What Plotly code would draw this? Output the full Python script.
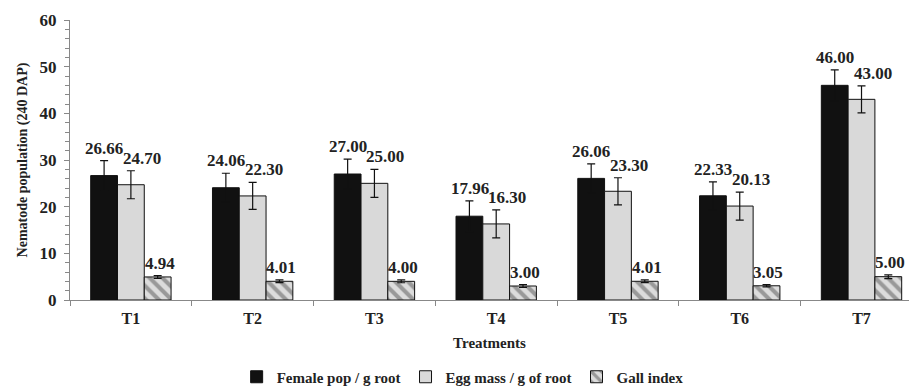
import plotly.graph_objects as go

treatments = ["T1", "T2", "T3", "T4", "T5", "T6", "T7"]
female = [26.66, 24.06, 27.00, 17.96, 26.06, 22.33, 46.00]
female_err = [3.2, 3.1, 3.2, 3.3, 3.1, 3.0, 3.3]
egg = [24.70, 22.30, 25.00, 16.30, 23.30, 20.13, 43.00]
egg_err = [3.0, 2.9, 3.0, 3.0, 2.9, 3.0, 2.9]
gall = [4.94, 4.01, 4.00, 3.00, 4.01, 3.05, 5.00]
gall_err = [0.3, 0.3, 0.3, 0.3, 0.3, 0.25, 0.4]

FONT = "Liberation Serif"
fig = go.Figure()

def add(name, vals, errs, color, pattern=None):
    marker = dict(color=color, line=dict(color="#111", width=1))
    if pattern:
        marker["pattern"] = pattern
    fig.add_trace(go.Bar(
        x=treatments, y=vals, name=name, marker=marker,
        error_y=dict(type="data", array=errs, color="#111", thickness=1.2, width=4),
    ))

add("Female pop / g root", female, female_err, "#111111")
add("Egg mass / g of root", egg, egg_err, "#d9d9d9")
add("Gall index", gall, gall_err, "#c8c8c8",
    pattern=dict(shape="\\", fgcolor="#555555", bgcolor="#dcdcdc", size=9, solidity=0.45))

bar_px = 26.7
series = [(female, female_err, -1, 0), (egg, egg_err, 0, 11), (gall, gall_err, 1, 2)]
for vals, errs, k, extra in series:
    for t, v, e in zip(treatments, vals, errs):
        fig.add_annotation(x=t, y=v + e, text=f"{v:.2f}", showarrow=False,
                           xshift=k * bar_px + extra, yshift=1, yanchor="bottom",
                           font=dict(family=FONT, size=17, color="#222", weight="bold"))

# figure is slightly taller than the 386px window so the legend never pushes margins
fig.update_layout(
    width=909, height=396,
    margin=dict(l=70, r=0, t=20, b=96),
    plot_bgcolor="white", paper_bgcolor="white",
    barmode="group", bargap=0.34, bargroupgap=0,
    font=dict(family=FONT, color="#222"),
    legend=dict(orientation="h", x=0.468, xanchor="center", y=-0.275, yanchor="middle",
                font=dict(family=FONT, size=15, color="#222", weight="bold"),
                itemwidth=30, tracegroupgap=0),
    showlegend=True,
)
fig.update_xaxes(
    range=[-0.5, 6.39], showline=True, linecolor="#888", linewidth=1,
    ticks="outside", tickson="boundaries", ticklen=5, tickcolor="#888",
    ticklabelstandoff=4,
    tickfont=dict(family=FONT, size=16, color="#222", weight="bold"),
    automargin=False,
    title=dict(text="Treatments", font=dict(family=FONT, size=15, color="#222", weight="bold"), standoff=11),
)
fig.update_yaxes(
    range=[0, 60], dtick=10, showgrid=False, zeroline=False,
    showline=True, linecolor="#888", linewidth=1,
    ticks="outside", ticklen=5, tickcolor="#888", ticklabelstandoff=4,
    minor=dict(dtick=2, ticks="outside", ticklen=4, tickcolor="#888"),
    tickfont=dict(family=FONT, size=17, color="#222", weight="bold"),
    automargin=False,
    title=dict(text="Nematode population (240 DAP)", font=dict(family=FONT, size=14, color="#222", weight="bold"), standoff=8),
)
fig.write_html("out.html", config={"displayModeBar": False},
               post_script="document.body.style.margin='0';document.body.style.overflow='hidden';")
